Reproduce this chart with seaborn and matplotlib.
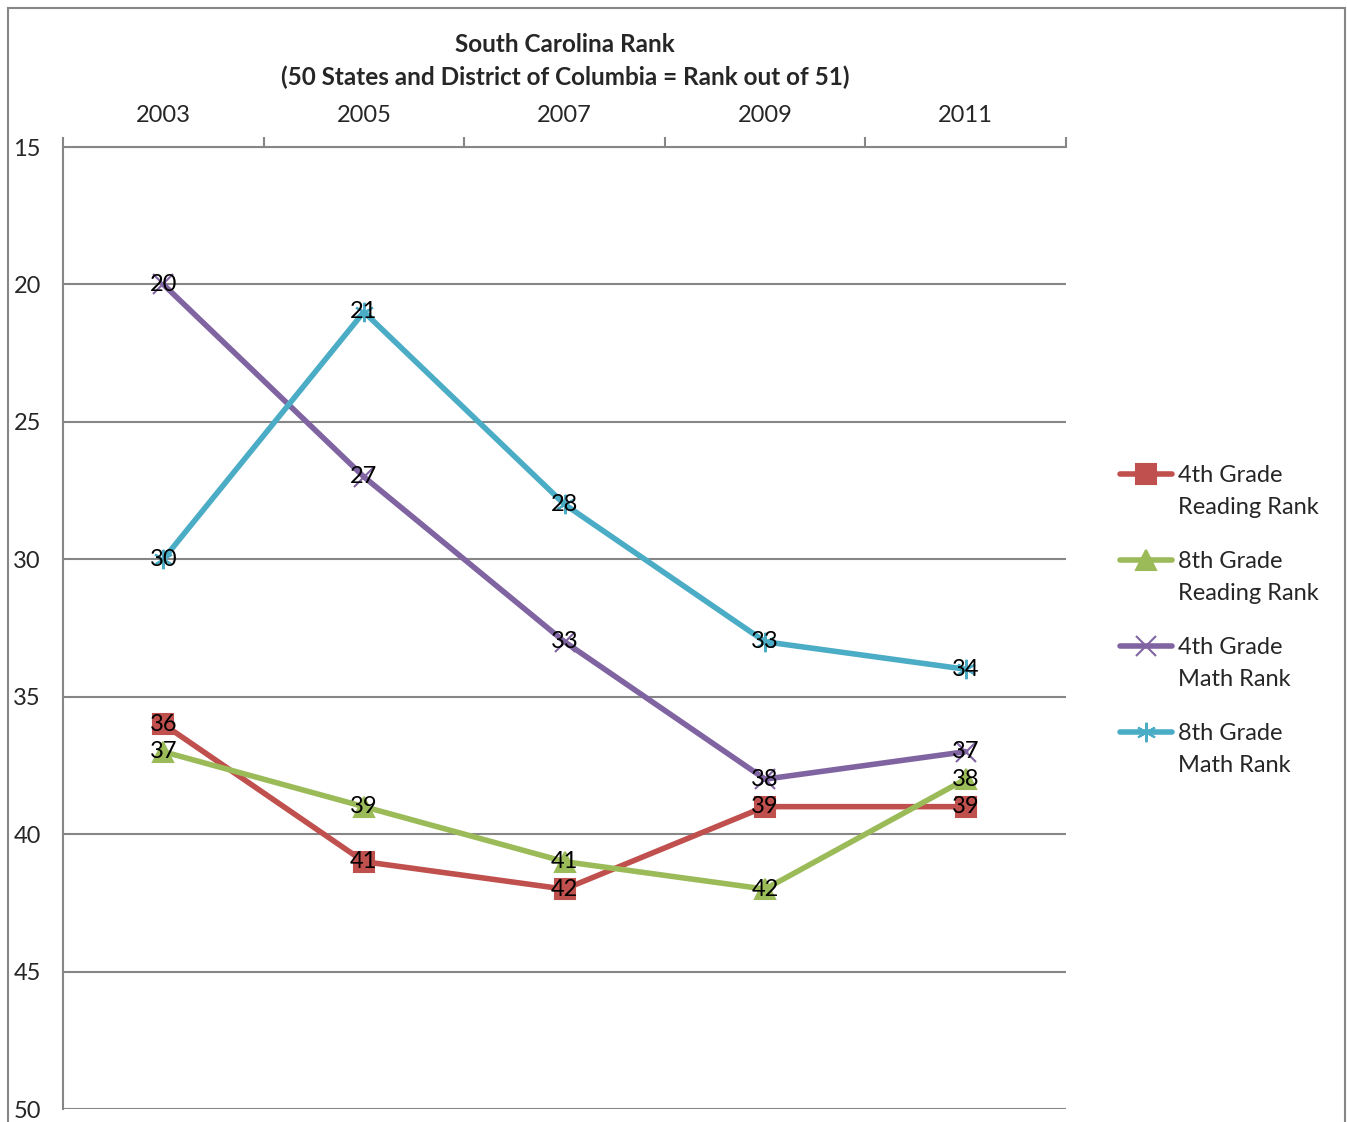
import matplotlib
matplotlib.use("Agg")
import matplotlib.pyplot as plt
import numpy as np
import seaborn as sns
from matplotlib.lines import Line2D
from matplotlib.patches import Rectangle

years = ["2003", "2005", "2007", "2009", "2011"]
series_names = [
    "4th Grade\nReading Rank",
    "8th Grade\nReading Rank",
    "4th Grade\nMath Rank",
    "8th Grade\nMath Rank",
]
reading_4th = [36, 41, 42, 39, 39]
reading_8th = [37, 39, 41, 42, 38]
math_4th = [20, 27, 33, 38, 37]
math_8th = [30, 21, 28, 33, 34]
colors = ["#C0504D", "#9BBB59", "#8064A2", "#4BACC6"]
markers = ["s", "^", "x", (6, 2, 0)]
title = "South Carolina Rank\n(50 States and District of Columbia = Rank out of 51)"

sns.set_style("white")
plt.rcParams["font.family"] = ["Lato", "DejaVu Sans"]

W, H = 1347, 1122
fig = plt.figure(figsize=(W / 100, H / 100), dpi=100)
ax = fig.add_axes([63 / W, 1 - 1109 / H, (1066 - 63) / W, (1109 - 147) / H])

# outer chart border
fig.patches.append(Rectangle((8 / W, -0.01), 1337 / W, 1 - 8 / H + 0.01,
                             transform=fig.transFigure, fill=False,
                             edgecolor="#868686", linewidth=1.5))

x = np.arange(len(years))
all_series = [reading_4th, reading_8th, math_4th, math_8th]
for name, vals, c, m in zip(series_names, all_series, colors, markers):
    sns.lineplot(x=x, y=vals, ax=ax, color=c, linewidth=4, marker=m,
                 markersize=14, markeredgecolor=c, markeredgewidth=1.5,
                 label=name, legend=False)
    for xi, v in zip(x, vals):
        ax.text(xi, v, str(v), ha="center", va="center", fontsize=17, color="black")

ax.set_xlim(-0.5, len(years) - 0.5)
ax.set_ylim(50, 15)
ax.set_yticks(range(15, 51, 5))
ax.yaxis.grid(True, color="#868686", linewidth=1.5)
ax.xaxis.grid(False)

ax.xaxis.tick_top()
ax.set_xticks(np.arange(-0.5, len(years), 1))
ax.set_xticklabels([])
ax.set_xticks(x, minor=True)
ax.set_xticklabels(years, minor=True, fontsize=17)
ax.tick_params(axis="x", which="major", length=7, width=1.5, color="#868686", direction="out")
ax.tick_params(axis="x", which="minor", length=0, pad=15)
ax.tick_params(axis="y", length=7, width=1.5, color="#868686", direction="out",
               labelsize=17, pad=9)

for side in ["right", "bottom"]:
    ax.spines[side].set_visible(False)
for side in ["top", "left"]:
    ax.spines[side].set_color("#868686")
    ax.spines[side].set_linewidth(1.5)

fig.text(565 / W, 1 - 61 / H, title, ha="center", va="center",
         fontsize=17.5, fontweight="bold", linespacing=1.45)

# legend: handle lined up with the first line of each two-line label
handles, labels = ax.get_legend_handles_labels()
for i, (h, lab) in enumerate(zip(handles, labels)):
    yc = 1 - (474 + 86 * i) / H
    fig.add_artist(Line2D([1120 / W, 1172 / W], [yc, yc], transform=fig.transFigure,
                          color=h.get_color(), linewidth=4, solid_capstyle="round"))
    fig.add_artist(Line2D([1146 / W], [yc], transform=fig.transFigure,
                          color=h.get_color(), marker=h.get_marker(), markersize=14,
                          markeredgecolor=h.get_color(), markeredgewidth=1.5))
    fig.text(1178 / W, yc + 9 / H, lab, ha="left", va="top", fontsize=17,
             linespacing=1.65, transform=fig.transFigure)

fig.savefig("out.png", dpi=100)
